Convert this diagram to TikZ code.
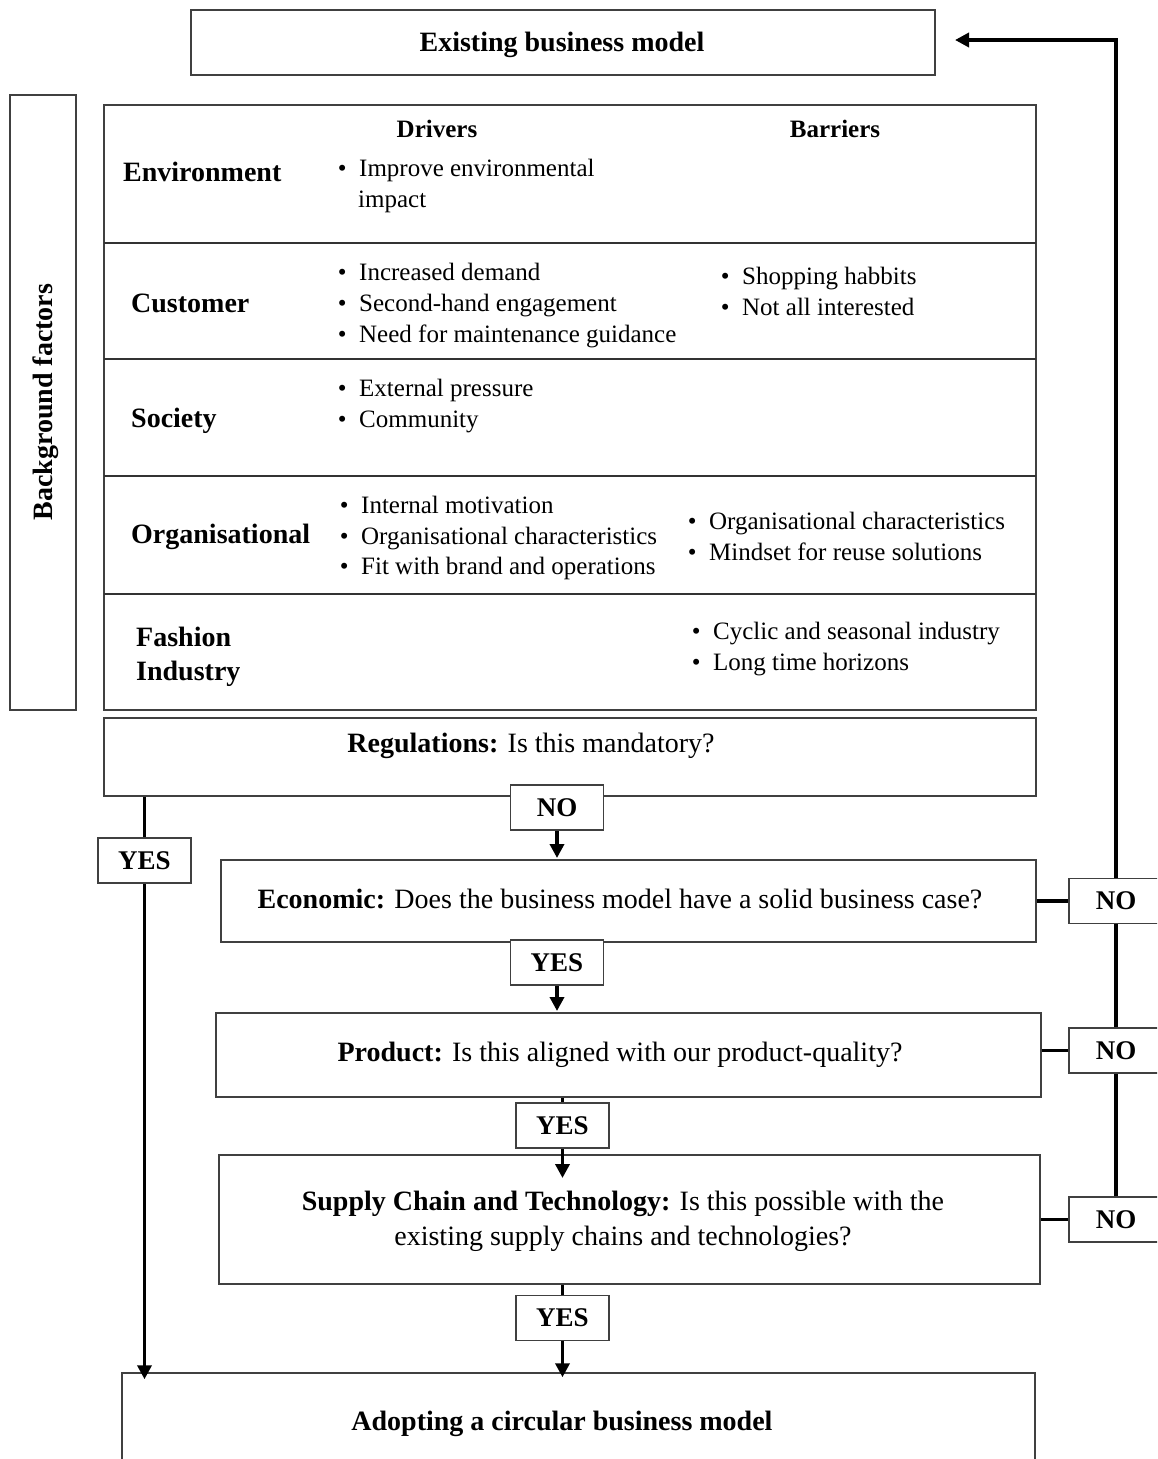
\documentclass[tikz,border=0pt]{standalone}
\usepackage{fontspec}
\setmainfont{Liberation Serif}
\usetikzlibrary{arrows.meta}
\tikzset{
  box/.style={draw=black!75, line width=1.5pt, fill=white, inner sep=0pt},
  lbl/.style={font=\fontsize{28}{34}\selectfont\bfseries, inner sep=0pt, anchor=base west},
  hdr/.style={font=\fontsize{25}{31}\selectfont\bfseries, inner sep=0pt, anchor=base},
  txt/.style={font=\fontsize{25}{31}\selectfont, inner sep=0pt, anchor=base west},
  flow/.style={font=\fontsize{28}{35}\selectfont, inner sep=0pt, anchor=base},
  yn/.style={box, font=\fontsize{27}{32}\selectfont\bfseries, minimum width=93, minimum height=45},
  conn/.style={line width=3.6pt, black},
  arr/.style={conn, -{Triangle[length=14pt,width=14pt]}},
  divl/.style={line width=2.6pt, black!80},
}
\newcommand\blt{\llap{\textbullet\hspace{12.5pt}}}
\begin{document}
\begin{tikzpicture}[x=1pt,y=-1pt]
\useasboundingbox (0,0) rectangle (1157,1459);
\clip (0,0) rectangle (1157,1459);
\fill[white] (0,0) rectangle (1157,1459);

% coordinates
\coordinate (corner) at (1116,40);
\coordinate (tipE) at (955,40);
\coordinate (tipS) at (562.5,1178);

% boxes (drawn as nodes)
\node[box, minimum width=744, minimum height=65] (exist) at (563,42.5) {};
\node[box, minimum width=66, minimum height=615] (bg) at (43,402.5) {};
\node[box, minimum width=932, minimum height=605] (table) at (570,407.5) {};
\node[box, minimum width=932, minimum height=78] (reg) at (570,757) {};
\node[box, minimum width=815, minimum height=82] (econ) at (628.5,901) {};
\node[box, minimum width=825, minimum height=84] (prod) at (628.5,1055) {};
\node[box, minimum width=821, minimum height=129] (sup) at (629.5,1219.5) {};
\node[box, minimum width=913, minimum height=110] (adopt) at (578.5,1428) {};

% table dividers
\draw[divl] (104,243) -- (1036,243);
\draw[divl] (104,359) -- (1036,359);
\draw[divl] (104,476) -- (1036,476);
\draw[divl] (104,594) -- (1036,594);

% connectors (behind yes/no boxes)
\coordinate (yl) at (144.5,860.5);
\draw[conn] (reg.south -| yl) -- (yl);
\draw[arr] (yl) -- ([yshift=-7pt]adopt.north -| yl);
\draw[arr] (557,807.5) -- (557,858);
\draw[arr] (557,962.5) -- (557,1011);
\draw[conn] (prod.south -| tipS) -- (562.5,1125);
\draw[arr] (562.5,1125) -- (tipS);
\draw[conn] (sup.south -| tipS) -- (562.5,1318);
\draw[arr] (562.5,1318) -- ([yshift=-5pt]adopt.north -| tipS);

% YES / NO boxes
\node[yn] (no0) at (557,807.5) {NO};
\node[yn] (yes1) at (557,962.5) {YES};
\node[yn] (yes2) at (562.5,1125.5) {YES};
\node[yn] (yes3) at (562.5,1318) {YES};
\node[yn] (yesL) at (144.5,860.5) {YES};
\node[yn, minimum width=94] (no1) at (1116,901) {NO};
\node[yn, minimum width=94] (no2) at (1116,1050.5) {NO};
\node[yn, minimum width=94] (no3) at (1116,1219.5) {NO};

% right-hand NO chain
\draw[conn] (econ.east) -- (no1.west);
\draw[conn] (no2.west -| prod.east) -- (no2.west);
\draw[conn] (no3.west -| sup.east) -- (no3.west);
\draw[conn] (no3.north) -- (no2.south);
\draw[conn] (no2.north) -- (no1.south);
\draw[arr] (no1.north) -- (corner) -- (tipE);

% texts
\node[flow, font=\fontsize{28}{35}\selectfont\bfseries] (tExist) at (562,51) {Existing business model};
\node[font=\fontsize{28}{34}\selectfont\bfseries, inner sep=0pt, anchor=base, rotate=90] (tBg) at (52,402) {Background factors};
\node[hdr] (hDrv) at (437,137) {Drivers};
\node[hdr] (hBar) at (835,137) {Barriers};

\node[lbl] (lEnv) at (123,181) {Environment};
\node[lbl] (lCus) at (131,312) {Customer};
\node[lbl] (lSoc) at (131,427) {Society};
\node[lbl] (lOrg) at (131,543) {Organisational};
\node[lbl] (lFa1) at (136,646) {Fashion};
\node[lbl] (lFa2) at (136,680) {Industry};

\node[txt] (e1) at (359,176) {\blt Improve environmental};
\node[txt] (e2) at (358,207) {impact};

\node[txt] (c1) at (359,280) {\blt Increased demand};
\node[txt] (c2) at (359,311) {\blt Second-hand engagement};
\node[txt] (c3) at (359,342) {\blt Need for maintenance guidance};
\node[txt] (cb1) at (742,284) {\blt Shopping habbits};
\node[txt] (cb2) at (742,315) {\blt Not all interested};

\node[txt] (s1) at (359,396) {\blt External pressure};
\node[txt] (s2) at (359,427) {\blt Community};

\node[txt] (o1) at (361,513) {\blt Internal motivation};
\node[txt] (o2) at (361,544) {\blt Organisational characteristics};
\node[txt] (o3) at (361,574) {\blt Fit with brand and operations};
\node[txt] (ob1) at (709,529) {\blt Organisational characteristics};
\node[txt] (ob2) at (709,560) {\blt Mindset for reuse solutions};

\node[txt] (f1) at (713,639) {\blt Cyclic and seasonal industry};
\node[txt] (f2) at (713,670) {\blt Long time horizons};

\node[flow] (tReg) at (531,752) {\textbf{Regulations:} Is this mandatory?};
\node[flow] (tEcon) at (620,908) {\textbf{Economic:} Does the business model have a solid business case?};
\node[flow] (tProd) at (620,1061) {\textbf{Product:} Is this aligned with our product-quality?};
\node[flow] (tSup1) at (623,1210) {\textbf{Supply Chain and Technology:} Is this possible with the};
\node[flow] (tSup2) at (623,1245) {existing supply chains and technologies?};
\node[flow, font=\fontsize{28}{35}\selectfont\bfseries] (tAdopt) at (562,1430) {Adopting a circular business model};
\end{tikzpicture}
\end{document}
